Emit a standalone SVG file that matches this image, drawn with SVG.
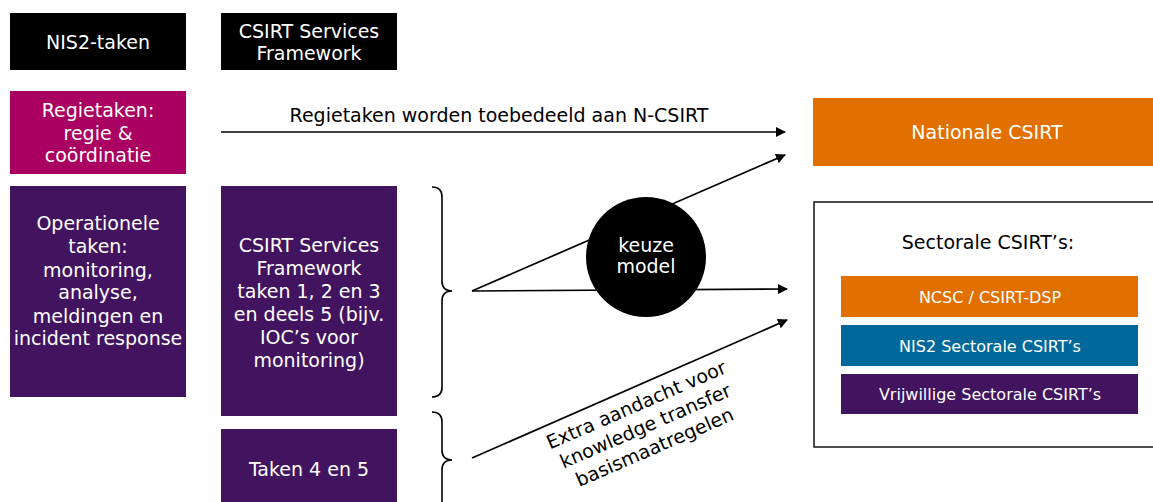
<svg xmlns="http://www.w3.org/2000/svg" width="1153" height="502" viewBox="0 0 1153 502">
<style>
text{font-family:"DejaVu Sans",Verdana,sans-serif;font-size:19px;text-anchor:middle}
.w{fill:#ffffff}
.k{fill:#000000}
.s{font-size:16px}
.ln{stroke:#000;stroke-width:1.7;fill:none}
.br{stroke:#000;stroke-width:1.6;fill:none}
</style>
<defs>
<marker id="ah" viewBox="0 0 10 10" refX="9" refY="5" markerWidth="10" markerHeight="10" markerUnits="userSpaceOnUse" orient="auto">
<path d="M0,0 L10,5 L0,10 z" fill="#000"/>
</marker>
</defs>
<rect width="1153" height="502" fill="#ffffff"/>
<g id="nis2-header"><rect x="10" y="13" width="176" height="57" fill="#000"/><text class="w" x="98" y="49">NIS2-taken</text></g>
<g id="csf-header"><rect x="221" y="13" width="176" height="57" fill="#000"/><text class="w" x="309" y="38">CSIRT Services</text><text class="w" x="309" y="60">Framework</text></g>
<g id="regietaken"><rect x="10" y="91" width="176" height="83" fill="#A90061"/><text class="w" x="98" y="117">Regietaken:</text><text class="w" x="98" y="140">regie &amp;</text><text class="w" x="98" y="162">coördinatie</text></g>
<g id="operationele"><rect x="10" y="186" width="176" height="211" fill="#42145F"/>
<text class="w" x="98" y="230">Operationele</text><text class="w" x="98" y="253">taken:</text><text class="w" x="98" y="277">monitoring,</text><text class="w" x="98" y="299">analyse,</text><text class="w" x="98" y="323">meldingen en</text><text class="w" x="98" y="345">incident response</text></g>
<g id="csf-taken"><rect x="221" y="186" width="176" height="230" fill="#42145F"/>
<text class="w" x="309" y="252">CSIRT Services</text><text class="w" x="309" y="275">Framework</text><text class="w" x="309" y="298">taken 1, 2 en 3</text><text class="w" x="309" y="321">en deels 5 (bijv.</text><text class="w" x="309" y="344">IOC’s voor</text><text class="w" x="309" y="367">monitoring)</text></g>
<g id="taken45"><rect x="221" y="429" width="176" height="73" fill="#42145F"/><text class="w" x="309" y="476">Taken 4 en 5</text></g>
<g id="nationale"><rect x="813" y="98" width="345" height="68" fill="#E17000"/><text class="w" x="987" y="139">Nationale CSIRT</text></g>
<g id="sectorale"><rect x="814" y="202" width="350" height="245" fill="#fff" stroke="#222" stroke-width="1.6"/>
<text class="k" x="988" y="249">Sectorale CSIRT’s:</text>
<rect x="841" y="276" width="297" height="41" fill="#E17000"/><text class="w s" x="990" y="303">NCSC / CSIRT-DSP</text>
<rect x="841" y="325" width="297" height="41" fill="#01689B"/><text class="w s" x="990" y="352">NIS2 Sectorale CSIRT’s</text>
<rect x="841" y="374" width="297" height="40" fill="#42145F"/><text class="w s" x="990" y="400">Vrijwillige Sectorale CSIRT’s</text></g>
<g id="connectors">
<line class="ln" x1="221" y1="132" x2="785" y2="132" marker-end="url(#ah)"/>
<text class="k" x="499" y="122">Regietaken worden toebedeeld aan N-CSIRT</text>
<line class="ln" x1="472" y1="291" x2="785" y2="155" marker-end="url(#ah)"/>
<line class="ln" x1="472" y1="291" x2="787" y2="289" marker-end="url(#ah)"/>
<line class="ln" x1="472" y1="458" x2="787" y2="320" marker-end="url(#ah)"/>
<path class="br" d="M432,187 Q442,187 442,197 L442,281 Q442,291 452,291 Q442,291 442,301 L442,387 Q442,397 432,397"/>
<path class="br" d="M432,412 Q442,412 442,422 L442,450 Q442,460 452,460 Q442,460 442,470 L442,510"/>
<g transform="translate(648,432) rotate(-23.5)">
<text class="k" x="0" y="-23">Extra aandacht voor</text>
<text class="k" x="0" y="0">knowledge transfer</text>
<text class="k" x="0" y="23">basismaatregelen</text>
</g>
</g>
<g id="keuze"><circle cx="646" cy="257" r="60" fill="#000"/><text class="w" x="646" y="252">keuze</text><text class="w" x="646" y="273">model</text></g>
</svg>
